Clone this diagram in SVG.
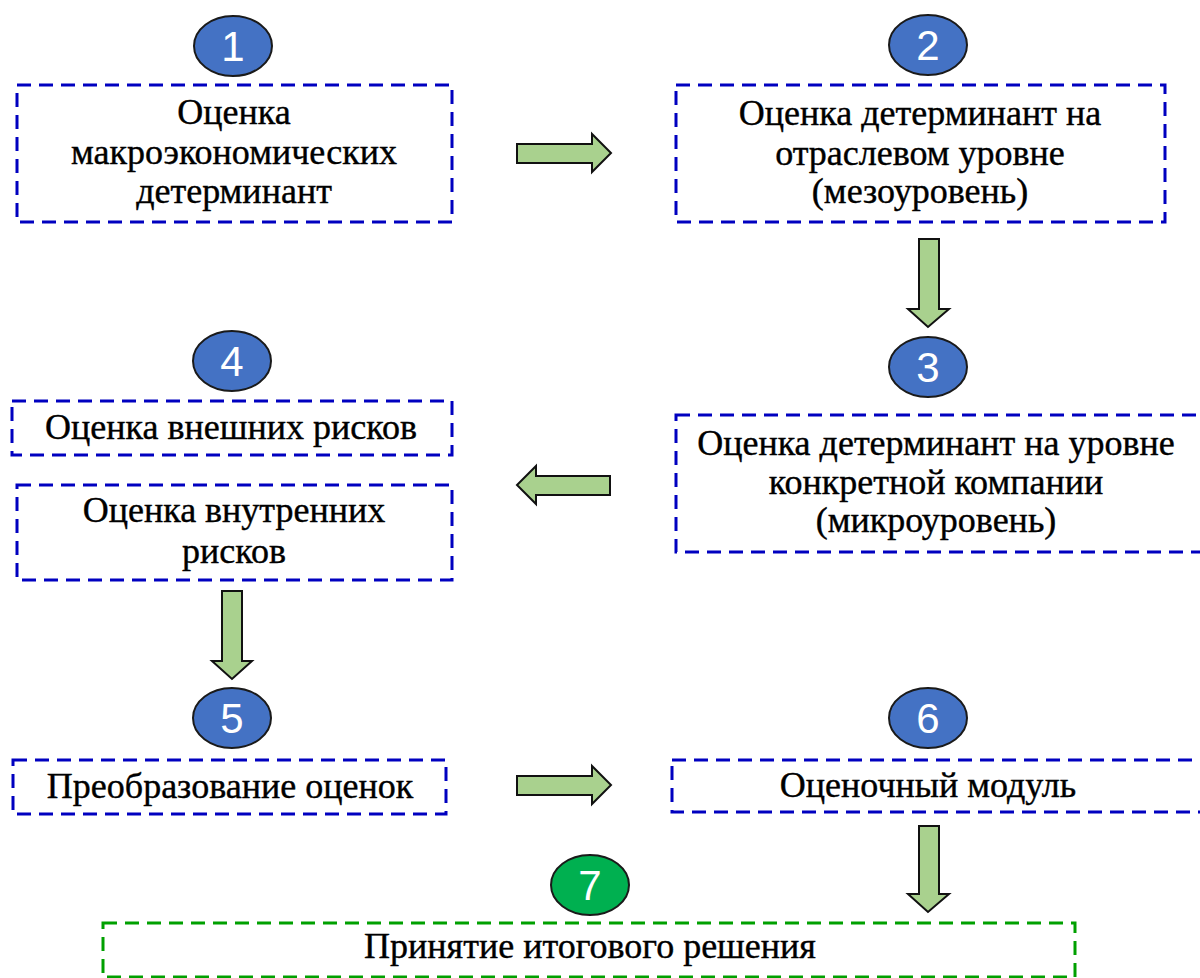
<svg xmlns="http://www.w3.org/2000/svg" width="1200" height="978" viewBox="0 0 1200 978">
<style>
.box{fill:none;stroke:#0000C0;stroke-width:3;stroke-dasharray:14 8}
.gbox{fill:none;stroke:#00A000;stroke-width:3;stroke-dasharray:14 8}
.t{font-family:"Liberation Serif","Times New Roman",serif;font-size:36px;fill:#000;stroke:#000;stroke-width:0.4;text-anchor:middle}
.bc{fill:#4472C4;stroke:#1a1a1a;stroke-width:2}
.gc{fill:#00B050;stroke:#1a1a1a;stroke-width:2}
.n{font-family:"Liberation Sans",Arial,sans-serif;font-size:42px;fill:#fff;text-anchor:middle}
.ar{fill:#A9D18E;stroke:#111;stroke-width:2;stroke-linejoin:miter}
</style>
<rect width="1200" height="978" fill="#fff"/>
<g id="connectors">
<polygon class="ar" points="517,144 592,144 592,134 611,153 592,172 592,163 517,163"/>
<polygon class="ar" points="919,239 939,239 939,309 949,309 928,327 908,309 919,309"/>
<polygon class="ar" points="610,476 536,476 536,466 517,485 536,504 536,495 610,495"/>
<polygon class="ar" points="222,591 242,591 242,661 252,661 232,679 212,661 222,661"/>
<polygon class="ar" points="517,776 592,776 592,766 611,785 592,804 592,795 517,795"/>
<polygon class="ar" points="919,826 939,826 939,894 949,894 928,912 908,894 919,894"/>
</g>
<g id="node1">
<ellipse class="bc" cx="233" cy="46" rx="39" ry="30"/>
<text class="n" x="233" y="61">1</text>
<rect class="box" x="17" y="85" width="435" height="137"/>
<text class="t" x="234" y="124">Оценка</text>
<text class="t" x="234" y="164">макроэкономических</text>
<text class="t" x="234" y="203">детерминант</text>
</g>
<g id="node2">
<ellipse class="bc" cx="928" cy="45" rx="39" ry="30"/>
<text class="n" x="928" y="60">2</text>
<rect class="box" x="676" y="85" width="489" height="137"/>
<text class="t" x="920" y="125">Оценка детерминант на</text>
<text class="t" x="920" y="165">отраслевом уровне</text>
<text class="t" x="920" y="203">(мезоуровень)</text>
</g>
<g id="node3">
<ellipse class="bc" cx="928" cy="367" rx="39" ry="30"/>
<text class="n" x="928" y="382">3</text>
<rect class="box" x="676" y="415" width="526" height="137"/>
<text class="t" x="936" y="455">Оценка детерминант на уровне</text>
<text class="t" x="936" y="494">конкретной компании</text>
<text class="t" x="936" y="532">(микроуровень)</text>
</g>
<g id="node4">
<ellipse class="bc" cx="232" cy="361" rx="39" ry="30"/>
<text class="n" x="232" y="376">4</text>
<rect class="box" x="12" y="401" width="440" height="54"/>
<text class="t" x="231" y="439">Оценка внешних рисков</text>
<rect class="box" x="17" y="485" width="435" height="95"/>
<text class="t" x="234" y="522">Оценка внутренних</text>
<text class="t" x="234" y="563">рисков</text>
</g>
<g id="node5">
<ellipse class="bc" cx="232" cy="718" rx="39" ry="30"/>
<text class="n" x="232" y="733">5</text>
<rect class="box" x="13" y="760" width="433" height="54"/>
<text class="t" x="230" y="798">Преобразование оценок</text>
</g>
<g id="node6">
<ellipse class="bc" cx="928" cy="718" rx="39" ry="30"/>
<text class="n" x="928" y="733">6</text>
<rect class="box" x="672" y="760" width="530" height="52"/>
<text class="t" x="928" y="797">Оценочный модуль</text>
</g>
<g id="node7">
<ellipse class="gc" cx="590" cy="885" rx="39" ry="30"/>
<text class="n" x="590" y="900">7</text>
<rect class="gbox" x="103" y="923" width="972" height="54"/>
<text class="t" x="590" y="958">Принятие итогового решения</text>
</g>
</svg>
